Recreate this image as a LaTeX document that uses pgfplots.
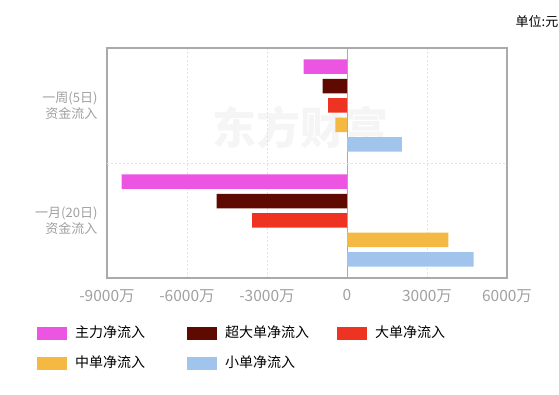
\documentclass[border=0pt]{standalone}
\usepackage{pgfplots}
\pgfplotsset{compat=1.18}
\usepackage{fontspec}
\setmainfont{Noto Sans CJK SC}
\definecolor{cMain}{HTML}{EC55E2}
\definecolor{cSuper}{HTML}{5E0A00}
\definecolor{cBig}{HTML}{EE3322}
\definecolor{cMid}{HTML}{F4B942}
\definecolor{cSmall}{HTML}{A0C4EC}
\definecolor{framec}{HTML}{AAAAAA}
\definecolor{gridc}{HTML}{DCE3EE}
\definecolor{labc}{HTML}{A0A0A0}
\begin{document}
\begin{tikzpicture}
\useasboundingbox (-107pt,-117pt) rectangle (452pt,278pt);
\node[text=black!4, font=\fontsize{44}{44}\selectfont\bfseries] at (193pt,150pt) {东方财富};
\begin{axis}[
  scale only axis, width=400pt, height=230pt,
  xbar, bar width=14.5pt,
  xmin=-9000, xmax=6000, ymin=-0.5, ymax=1.5,
  xtick={-9000,-6000,-3000,0,3000,6000},
  xticklabels={-9000万,-6000万,-3000万,0,3000万,6000万},
  ytick={0,1},
  yticklabels={{一月(20日)\\资金流入},{一周(5日)\\资金流入}},
  yticklabel style={align=right, font=\fontsize{13}{16}\selectfont, text=labc, xshift=-6pt},
  xticklabel style={font=\fontsize{15.5}{17}\selectfont, text=labc, yshift=-8pt},
  /pgf/number format/assume math mode=true,
  tick style={draw=none},
  major tick length=0pt,
  xmajorgrids,
  grid style={dash pattern=on 2pt off 2pt, color=gridc, line width=0.8pt},
  extra y ticks={0.5}, extra y tick labels={},
  extra y tick style={ymajorgrids=true, grid style={dash pattern=on 2pt off 2pt, color=gridc, line width=0.8pt}},
  extra x ticks={0}, extra x tick labels={},
  extra x tick style={xmajorgrids=true, grid style={solid, color=framec, line width=1pt}},
  axis line style={draw=framec, line width=1.2pt},
  legend columns=3,
  legend style={at={(0,0)}, anchor=north west, xshift=-70pt, yshift=-49pt,
    draw=none, fill=none, inner sep=0pt, row sep=17pt,
    font=\fontsize{14}{16}\selectfont,
    nodes={inner sep=0pt, text height=10.5pt, text depth=2.5pt},
    /tikz/every odd column/.append style={column sep=8pt}},
  legend cell align=left,
  legend image code/.code={\fill[#1] (0pt,-6.5pt) rectangle (30pt,6.5pt);},
]
\addplot[fill=cMain, draw=none, bar shift=38.8pt] coordinates {(-1625,1) (-8450,0)};
\addlegendentry{\makebox[112pt][l]{主力净流入}}
\addplot[fill=cSuper, draw=none, bar shift=19.4pt] coordinates {(-912,1) (-4886,0)};
\addlegendentry{\makebox[112pt][l]{超大单净流入}}
\addplot[fill=cBig, draw=none, bar shift=0pt] coordinates {(-712,1) (-3561,0)};
\addlegendentry{\makebox[112pt][l]{大单净流入}}
\addplot[fill=cMid, draw=none, bar shift=-19.4pt] coordinates {(-437,1) (3806,0)};
\addlegendentry{\makebox[112pt][l]{中单净流入}}
\addplot[fill=cSmall, draw=none, bar shift=-38.8pt] coordinates {(2062,1) (4744,0)};
\addlegendentry{\makebox[112pt][l]{小单净流入}}
\end{axis}
\node[font=\fontsize{13}{15}\selectfont] at (430pt,256pt) {单位:元};
\end{tikzpicture}
\end{document}
